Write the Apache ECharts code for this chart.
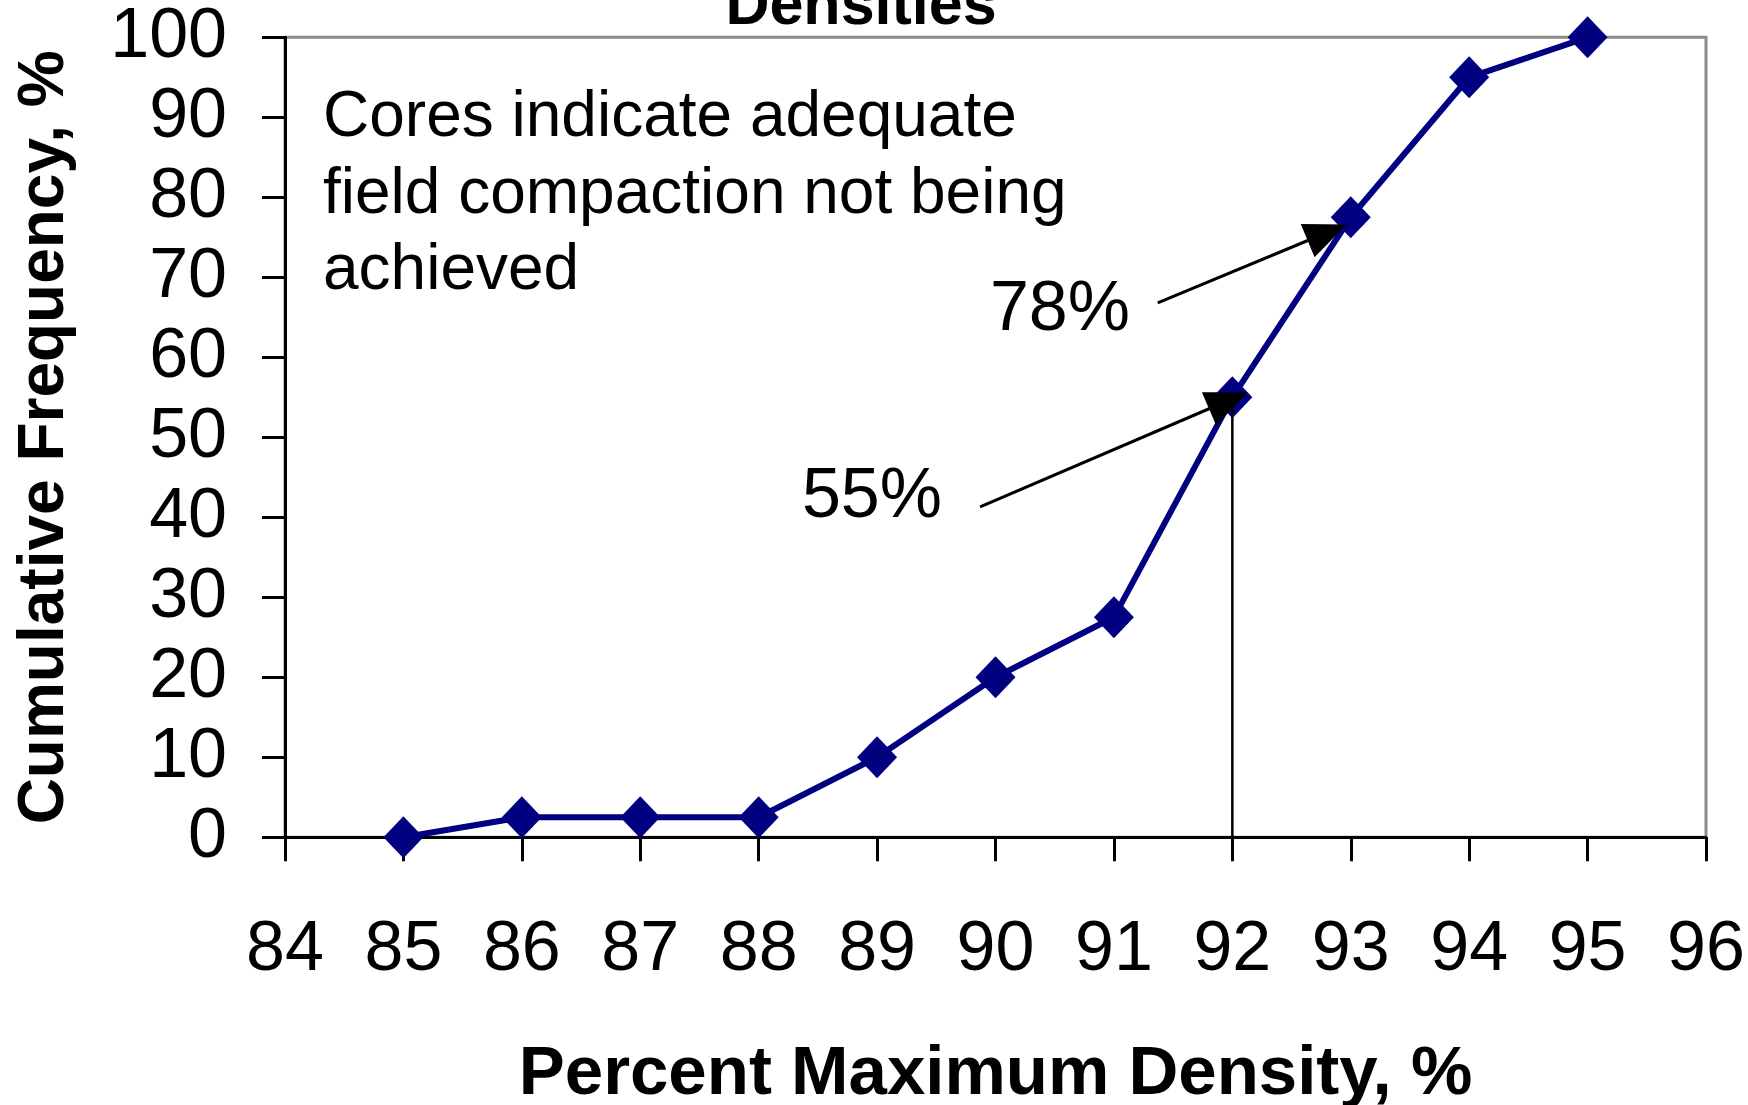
<!DOCTYPE html>
<html>
<head>
<meta charset="utf-8">
<script src="https://cdn.jsdelivr.net/npm/echarts@6/dist/echarts.min.js"></script>
<style>
html,body{margin:0;padding:0;background:#fff;}
#chart{width:1748px;height:1105px;}
</style>
</head>
<body>
<div id="chart"></div>
<script>
// ---- data ----
const densities = [85, 86, 87, 88, 89, 90, 91, 92, 93, 94, 95];
const cumFreq = [0, 2.5, 2.5, 2.5, 10, 20, 27.5, 55, 77.5, 95, 100];
const refLineX = [92, 92];
const refLineY = [0, 55];
const arrow78 = [[91.37, 66.8], [92.80, 75.6]];
const arrow55 = [[89.87, 41.3], [91.966, 54.6]];
const titleText = 'Densities';
const xName = 'Percent Maximum Density, %';
const yName = 'Cumulative Frequency, %';
const noteLines = ['Cores indicate adequate', 'field compaction not being', 'achieved'];
const label78 = '78%';
const label55 = '55%';

const FONT = '"Liberation Sans", Arial, sans-serif';
const chart = echarts.init(document.getElementById('chart'), null, {renderer: 'canvas'});

function arrowData(a) {
  return [
    {coord: a[0], symbol: 'none'},
    {coord: a[1], symbol: 'triangle', symbolSize: [36, 42]}
  ];
}

const option = {
  animation: false,
  backgroundColor: '#ffffff',
  grid: {
    left: 285, right: 42, top: 37.3, bottom: 267.7,
    containLabel: false, outerBoundsMode: 'none',
    show: true, borderColor: '#8c8c8c', borderWidth: 3, backgroundColor: 'transparent'
  },
  xAxis: {
    type: 'value', min: 84, max: 96, interval: 1,
    name: xName, nameLocation: 'middle', nameGap: 203,
    nameTextStyle: {fontFamily: FONT, fontSize: 69, fontWeight: 'bold', color: '#000'},
    axisLine: {show: true, onZero: false, lineStyle: {color: '#000', width: 3}},
    axisTick: {show: true, inside: false, length: 24, lineStyle: {color: '#000', width: 3}},
    axisLabel: {fontFamily: FONT, fontSize: 70, color: '#000', margin: 78},
    splitLine: {show: false}
  },
  yAxis: {
    type: 'value', min: 0, max: 100, interval: 10,
    name: yName, nameLocation: 'middle', nameGap: 208,
    nameTextStyle: {fontFamily: FONT, fontSize: 64, fontWeight: 'bold', color: '#000'},
    axisLine: {show: true, onZero: false, lineStyle: {color: '#000', width: 3}},
    axisTick: {show: true, inside: false, length: 23, lineStyle: {color: '#000', width: 3}},
    axisLabel: {fontFamily: FONT, fontSize: 70, color: '#000', margin: 58},
    splitLine: {show: false}
  },
  series: [
    {
      type: 'line',
      data: densities.map((d, i) => [d, cumFreq[i]]),
      lineStyle: {color: '#000080', width: 6},
      itemStyle: {color: '#000080'},
      symbol: 'diamond', symbolSize: [40, 42], showSymbol: true,
      silent: true, z: 3
    },
    {
      type: 'line',
      data: refLineX.map((d, i) => [d, refLineY[i]]),
      lineStyle: {color: '#000', width: 2.5},
      symbol: 'none', silent: true, z: 4
    },
    {
      type: 'line', data: [], silent: true, z: 5,
      markLine: {
        silent: true, animation: false,
        lineStyle: {color: '#000', width: 3, type: 'solid'},
        itemStyle: {color: '#000'},
        label: {show: false},
        emphasis: {disabled: true},
        data: [arrowData(arrow78), arrowData(arrow55)]
      }
    }
  ],
  graphic: [
    {type: 'text', x: 861, y: 7, style: {text: titleText, font: 'bold 61px ' + FONT, fill: '#000', align: 'center', verticalAlign: 'middle'}},
    {type: 'text', x: 323, y: 118, style: {text: noteLines[0], font: '64px ' + FONT, fill: '#000', align: 'left', verticalAlign: 'middle'}},
    {type: 'text', x: 323, y: 195, style: {text: noteLines[1], font: '64px ' + FONT, fill: '#000', align: 'left', verticalAlign: 'middle'}},
    {type: 'text', x: 323, y: 271.5, style: {text: noteLines[2], font: '64px ' + FONT, fill: '#000', align: 'left', verticalAlign: 'middle'}},
    {type: 'text', x: 1130, y: 311, style: {text: label78, font: '70px ' + FONT, fill: '#000', align: 'right', verticalAlign: 'middle'}},
    {type: 'text', x: 942, y: 498, style: {text: label55, font: '70px ' + FONT, fill: '#000', align: 'right', verticalAlign: 'middle'}}
  ]
};
chart.setOption(option);
</script>
</body>
</html>
